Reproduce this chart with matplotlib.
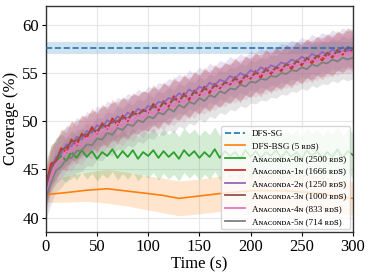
import numpy as np
import matplotlib
matplotlib.use("Agg")
import matplotlib.pyplot as plt

plt.rcParams['font.family'] = ['Liberation Serif', 'DejaVu Serif', 'DejaVu Sans']
plt.rcParams['mathtext.fontset'] = 'stix'

# ---------------- data ----------------
sg_time = [0, 300]
sg_mean = [57.6, 57.6]
sg_low = [56.95, 56.95]
sg_high = [58.25, 58.25]

bsg_time = [0, 20, 40, 60, 80, 100, 115, 130, 150, 170, 200, 230, 260, 280, 300]
bsg_mean = [42.4, 42.6, 42.85, 43.0, 42.75, 42.5, 42.3, 42.0, 42.25, 42.5, 42.8, 42.8, 42.6, 42.3, 42.0]
bsg_low = [41.6, 41.6, 41.7, 41.5, 41.2, 40.8, 40.5, 40.2, 40.4, 40.65, 40.9, 40.9, 40.7, 40.5, 40.3]
bsg_high = [43.6, 44.3, 44.7, 45.0, 44.7, 44.3, 44.1, 43.8, 44.0, 44.3, 44.6, 44.6, 44.4, 44.1, 43.7]

ana_0n = [43.6, 45.1, 45.9, 46.4, 45.9, 46.8, 46.2, 47.0, 46.3, 46.9,
          46.1, 46.8, 46.4, 47.1, 46.2, 46.9, 46.3, 47.0, 46.1, 46.8,
          46.4, 47.0, 46.2, 46.9, 46.3, 46.8, 46.1, 47.0, 46.4, 46.9,
          46.2, 46.8, 46.3, 47.1, 46.2, 46.9, 46.4, 46.8, 46.1, 47.0,
          46.3, 46.9, 46.2, 46.8, 46.4, 47.0, 46.2, 46.9, 46.3, 46.8,
          46.1, 47.0, 46.4, 46.9, 46.2, 46.8, 46.3, 47.1, 46.2, 46.9, 46.5]
ana_1n = [43.4, 45.6, 45.9, 47.2, 46.8, 48.1, 47.5, 48.7, 48.3, 49.4, 48.7, 49.8, 49.2, 50.3, 49.6,
          50.6, 50.0, 51.0, 50.6, 51.2, 50.9, 51.8, 51.1, 52.1, 51.5, 52.6, 52.0, 52.9, 52.2, 53.2,
          52.7, 53.6, 52.9, 53.9, 53.4, 54.1, 53.8, 54.6, 53.9, 54.8, 54.4, 55.2, 54.5, 55.5, 54.9,
          55.6, 55.2, 56.0, 55.4, 56.3, 55.8, 56.6, 56.0, 56.8, 56.3, 57.0, 56.6, 57.4, 56.9, 57.6, 57.2]
ana_2n = [42.8, 44.9, 46.3, 46.6, 47.6, 47.4, 48.4, 48.1, 49.0, 48.8, 49.6, 49.3, 50.1, 49.8, 50.5,
          50.2, 50.9, 50.6, 51.3, 51.0, 51.6, 51.4, 52.0, 51.9, 52.4, 52.3, 52.9, 52.6, 53.3, 53.0,
          53.6, 53.3, 54.0, 53.7, 54.3, 54.1, 54.7, 54.4, 55.0, 54.7, 55.3, 55.0, 55.6, 55.3, 55.8,
          55.6, 56.1, 55.9, 56.4, 56.2, 56.7, 56.4, 57.0, 56.7, 57.2, 56.9, 57.5, 57.1, 57.7, 57.3, 57.6]
ana_3n = [43.0, 45.2, 46.0, 47.0, 47.3, 47.9, 48.0, 48.5, 48.6, 49.1, 49.0, 49.6, 49.5, 50.0, 50.0,
          50.4, 50.3, 50.8, 50.7, 51.1, 51.0, 51.6, 51.3, 51.9, 51.7, 52.3, 52.1, 52.7, 52.4, 53.0,
          52.8, 53.4, 53.1, 53.7, 53.5, 54.0, 53.9, 54.4, 54.1, 54.7, 54.5, 55.0, 54.9, 55.3, 55.1,
          55.6, 55.4, 55.9, 55.7, 56.2, 56.0, 56.5, 56.3, 56.8, 56.6, 57.1, 56.8, 57.3, 57.1, 57.7, 57.5]
ana_4n = [42.3, 44.3, 45.6, 46.0, 46.9, 46.8, 47.7, 47.5, 48.3, 48.1, 48.9, 48.6, 49.4, 49.1, 49.8,
          49.5, 50.3, 49.9, 50.7, 50.3, 51.1, 50.7, 51.5, 51.1, 51.9, 51.5, 52.3, 51.9, 52.7, 52.3,
          53.0, 52.7, 53.4, 53.1, 53.7, 53.5, 54.1, 53.9, 54.4, 54.2, 54.7, 54.5, 55.0, 54.8, 55.3,
          55.1, 55.6, 55.4, 55.9, 55.7, 56.2, 56.0, 56.5, 56.2, 56.8, 56.5, 57.0, 56.7, 57.2, 56.9, 57.2]
ana_5n = [42.0, 43.6, 44.9, 45.3, 46.1, 46.2, 46.9, 47.0, 47.6, 47.5, 48.2, 48.1, 48.8, 48.6, 49.3,
          49.1, 49.7, 49.5, 50.1, 49.9, 50.5, 50.3, 50.9, 50.7, 51.3, 51.0, 51.7, 51.4, 52.0, 51.8,
          52.4, 52.1, 52.7, 52.5, 53.1, 52.9, 53.4, 53.3, 53.8, 53.6, 54.1, 54.0, 54.4, 54.3, 54.7,
          54.6, 55.0, 54.9, 55.3, 55.2, 55.6, 55.4, 55.9, 55.7, 56.1, 56.0, 56.4, 56.2, 56.6, 56.4, 56.6]
ana_spread = [2.3, 2.0, 2.0, 2.0, 2.0, 2.2]

ana_series = [ana_0n, ana_1n, ana_2n, ana_3n, ana_4n, ana_5n]
ana_labels = ["Aɴᴀᴄᴏɴᴅᴀ-0ɴ (2500 ʀᴅꜱ)",
              "Aɴᴀᴄᴏɴᴅᴀ-1ɴ (1666 ʀᴅꜱ)",
              "Aɴᴀᴄᴏɴᴅᴀ-2ɴ (1250 ʀᴅꜱ)",
              "Aɴᴀᴄᴏɴᴅᴀ-3ɴ (1000 ʀᴅꜱ)",
              "Aɴᴀᴄᴏɴᴅᴀ-4ɴ (833 ʀᴅꜱ)",
              "Aɴᴀᴄᴏɴᴅᴀ-5ɴ (714 ʀᴅꜱ)"]
sg_label = "DFS-SG"
bsg_label = "DFS-BSG (5 ʀᴅꜱ)"
ana_colors = ['#2ca02c', '#d62728', '#9467bd', '#8c564b', '#e377c2', '#7f7f7f']

# ---------------- plot ----------------
fig = plt.figure(figsize=(3.73, 2.78), dpi=100)
ax = fig.add_axes([0.123, 0.165, 0.823, 0.815])

ax.fill_between(sg_time, sg_low, sg_high, color='#1f77b4', alpha=0.2, linewidth=0)
ax.plot(sg_time, sg_mean, '--', color='#1f77b4', lw=1.2, label=sg_label, zorder=4)

ax.fill_between(bsg_time, bsg_low, bsg_high, color='#ff7f0e', alpha=0.2, linewidth=0)
ax.plot(bsg_time, bsg_mean, color='#ff7f0e', lw=1.2, label=bsg_label)

for vals, sp, col, lab in zip(ana_series, ana_spread, ana_colors, ana_labels):
    v = np.array(vals)
    t = np.linspace(0, 300, len(v))
    ax.fill_between(t, v - sp, v + sp, color=col, alpha=0.2, linewidth=0)
    ax.plot(t, v, color=col, lw=1.3, label=lab)

ax.set_xlim(0, 300)
ax.set_ylim(38.5, 62)
ax.set_xticks([0, 50, 100, 150, 200, 250, 300])
ax.set_yticks([40, 45, 50, 55, 60])
ax.grid(True, color='#e6e6e6', lw=0.8)
ax.set_axisbelow(True)
ax.tick_params(labelsize=12, length=3, width=0.8, pad=2)
for s in ax.spines.values():
    s.set_color('#333333')
    s.set_linewidth(1.0)
ax.set_xlabel("Time (s)", fontsize=12, labelpad=1)
ax.set_ylabel("Coverage (%)", fontsize=12, labelpad=2)

leg = ax.legend(loc='lower right', fontsize=6.6, frameon=True, fancybox=True,
                borderaxespad=0.3, handlelength=2.2, labelspacing=0.45,
                framealpha=0.8, edgecolor='#cccccc')

fig.savefig("out.png", dpi=100)
